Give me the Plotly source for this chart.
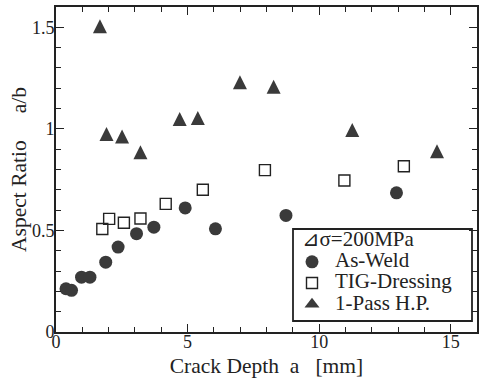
import plotly.graph_objects as go

# ---- data ----
asweld_x = [0.38, 0.59, 0.97, 1.29, 1.89, 2.36, 3.06, 3.72, 4.91, 6.06, 8.74, 12.94]
asweld_y = [0.213, 0.205, 0.27, 0.27, 0.344, 0.418, 0.484, 0.516, 0.611, 0.508, 0.574, 0.685]

tig_x = [1.76, 2.02, 2.58, 3.21, 4.17, 5.58, 7.94, 10.96, 13.22]
tig_y = [0.507, 0.557, 0.538, 0.559, 0.631, 0.70, 0.797, 0.746, 0.816]

hp_x = [1.67, 1.92, 2.51, 3.21, 4.70, 5.39, 6.99, 8.27, 11.26, 14.48]
hp_y = [1.505, 0.975, 0.962, 0.885, 1.049, 1.054, 1.23, 1.208, 0.995, 0.89]

series_names = ["As-Weld", "TIG-Dressing", "1-Pass H.P."]
legend_title = "\u00a0\u00a0⊿σ=200MPa"
x_title = "Crack Depth\u00a0\u00a0a\u00a0\u00a0\u00a0[mm]"
y_title = "Aspect Ratio\u00a0\u00a0\u00a0\u00a0\u00a0a/b"
x_ticks = [0, 5, 10, 15]
y_ticks = [0, 0.5, 1, 1.5]

# ---- layout geometry (pixels) ----
W, H = 479, 380
L, R, T, B = 56, 2, 7, 48
pw, ph = W - L - R, H - T - B


def px(x):
    return (x - L) / pw


def py(y):
    return (H - B - y) / ph


def big(t):
    return "<span style='font-size:21px'>" + t + "</span>"


FONT = "Liberation Serif"
INK = "#222222"
MARK = "#3a3a3a"

fig = go.Figure()
fig.add_trace(go.Scatter(x=asweld_x, y=asweld_y, mode="markers", name=big(series_names[0]),
                         marker=dict(symbol="circle", size=13, color=MARK)))
fig.add_trace(go.Scatter(x=tig_x, y=tig_y, mode="markers", name=big(series_names[1]),
                         marker=dict(symbol="square-open", size=11, color=INK,
                                     line=dict(width=1.4, color=INK))))
# data triangles (near-equilateral shape), legend entry drawn by a companion trace
fig.add_trace(go.Scatter(x=hp_x, y=hp_y, mode="markers", name=big(series_names[2]),
                         legendgroup="hp", showlegend=False,
                         marker=dict(symbol="arrow-down", angle=180, size=14, standoff=7,
                                     color=MARK, line=dict(width=0))))
fig.add_trace(go.Scatter(x=[None], y=[None], mode="markers", name=big(series_names[2]),
                         legendgroup="hp", showlegend=True,
                         marker=dict(symbol="triangle-up", size=13, color=MARK,
                                     line=dict(width=0))))

axis_common = dict(
    showline=True, linecolor=INK, linewidth=1.6, mirror="ticks",
    ticks="inside", ticklen=8, tickwidth=1.3, tickcolor=INK,
    showgrid=False, zeroline=False,
    tickfont=dict(family=FONT, size=18, color=INK),
)

fig.update_layout(
    width=W, height=H,
    margin=dict(l=L, r=R, t=T, b=B, autoexpand=False),
    paper_bgcolor="white", plot_bgcolor="white",
    font=dict(family=FONT, color=INK),
    xaxis=dict(range=[0, 16], tickvals=x_ticks, ticklabelstandoff=-7,
               minor=dict(dtick=1, ticks="inside", ticklen=5, tickwidth=1.2, tickcolor=INK),
               title=dict(text=x_title, font=dict(family=FONT, size=21.5, color=INK), standoff=7),
               **axis_common),
    yaxis=dict(range=[0, 1.6], tickvals=y_ticks, ticklabelstandoff=-4,
               minor=dict(dtick=0.1, ticks="inside", ticklen=5, tickwidth=1.2, tickcolor=INK),
               title=dict(text=y_title, font=dict(family=FONT, size=21.5, color=INK), standoff=0),
               **axis_common),
    showlegend=True,
    legend=dict(x=px(289), y=py(228), xanchor="left", yanchor="top",
                bgcolor="rgba(0,0,0,0)", borderwidth=0,
                font=dict(family=FONT, size=14, color=INK),
                title=dict(text=big(legend_title), side="top",
                           font=dict(family=FONT, size=14, color=INK)),
                itemsizing="trace", itemwidth=36, tracegroupgap=0),
)

# legend frame
fig.add_shape(type="rect", xref="paper", yref="paper",
              x0=px(293), x1=px(472), y0=py(321), y1=py(229),
              line=dict(color=INK, width=1.8), fillcolor="rgba(0,0,0,0)")

fig.write_html("out.html", config={"displayModeBar": False},
               post_script="document.body.style.margin='0';")
